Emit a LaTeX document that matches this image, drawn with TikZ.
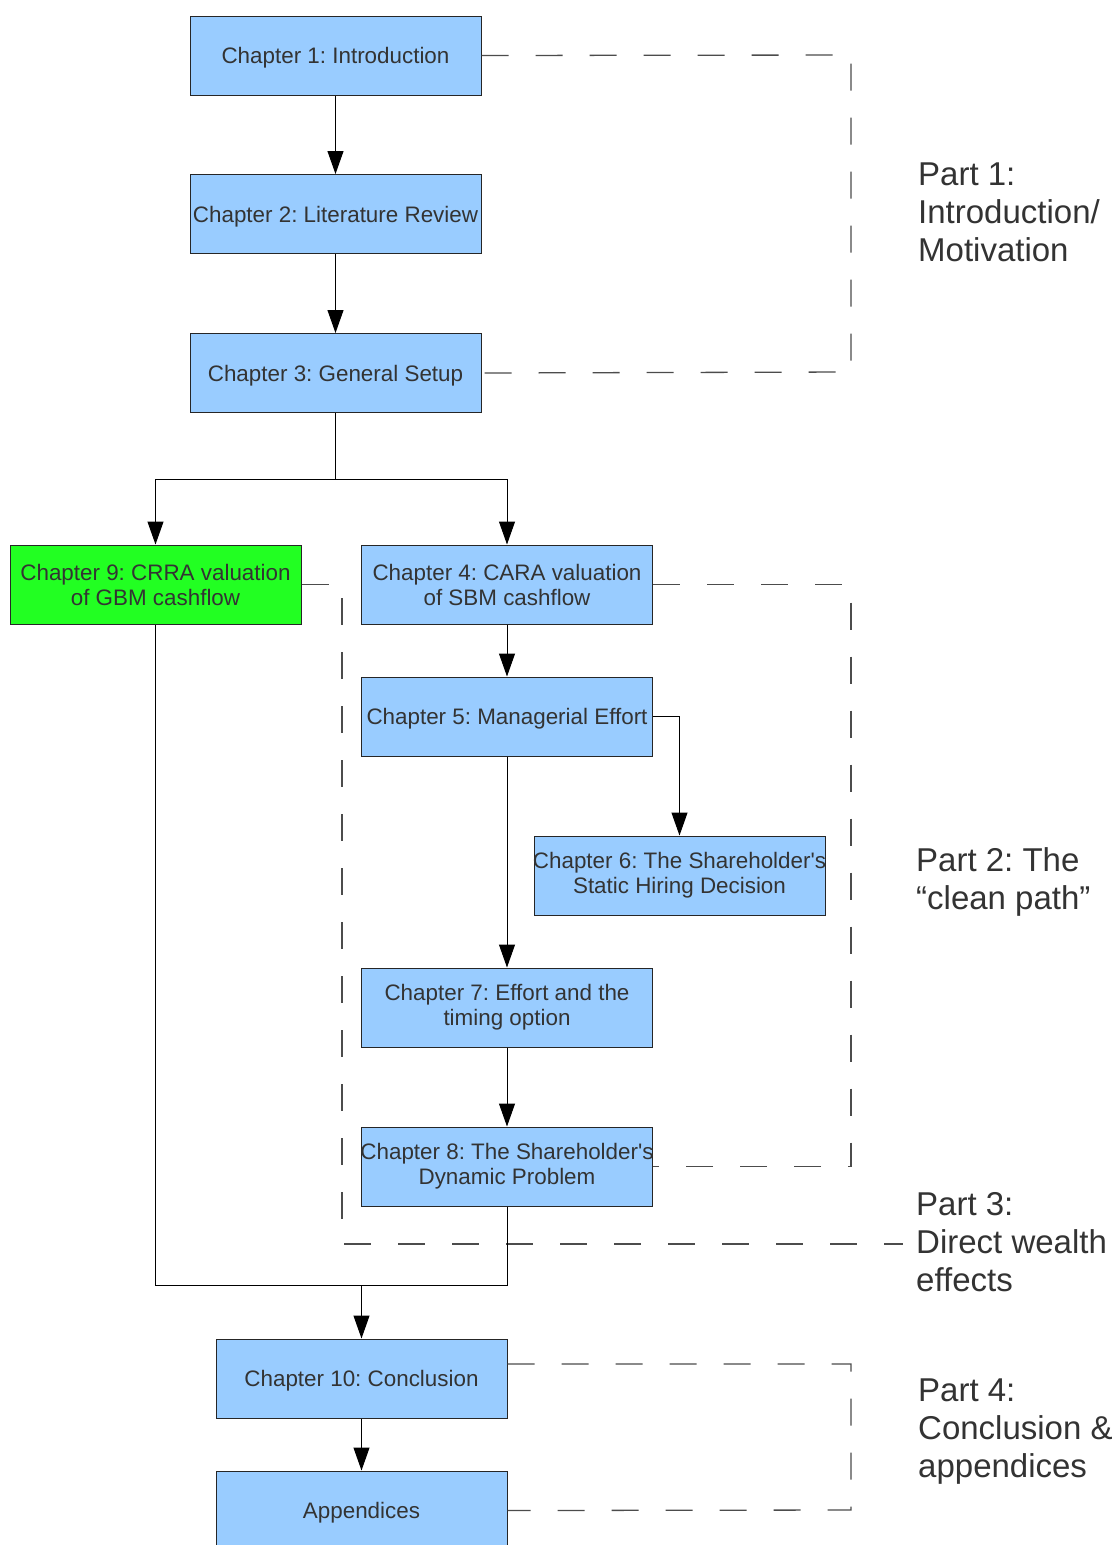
\documentclass[tikz,border=0pt]{standalone}
\usepackage{fontspec}
\setmainfont[Ligatures=TeXOff]{Liberation Sans}
\usetikzlibrary{arrows.meta}
\definecolor{boxblue}{HTML}{99CCFF}
\definecolor{boxgreen}{HTML}{22FF22}
\definecolor{txtgray}{HTML}{333333}
\newcommand{\zl}[1]{\makebox[0pt][c]{#1}}
\newcommand{\zs}[1]{\makebox[0pt][c]{\raisebox{0pt}[16pt][0pt]{#1}}}
\begin{document}
\frenchspacing
\begin{tikzpicture}[x=1pt,y=-1pt,
  chbox/.style={rectangle, draw=black!85, line width=1pt, fill=boxblue, minimum width=291pt, minimum height=79pt, inner sep=0pt, align=center, text=txtgray, font=\fontsize{22.4}{25}\selectfont\frenchspacing},
  conn/.style={draw=black, line width=1pt},
  arr/.style={conn, -{Triangle[length=23pt,width=16pt]}},
  partdash/.style={draw=black!70, line width=1.3pt, dash pattern=on 27pt off 27pt},
  partlbl/.style={anchor=west, align=left, inner sep=0pt, text=txtgray, font=\fontsize{33}{38}\selectfont\frenchspacing}]
\useasboundingbox (0,0) rectangle (1118,1545);
\fill[white] (0,0) rectangle (1118,1545);

\coordinate (p1a) at (851,55);
\coordinate (p1b) at (851,372);
\coordinate (p2a) at (851,584.5);
\coordinate (p2b) at (851,1166.5);
\coordinate (p3a) at (342,584.5);
\coordinate (p3b) at (342,1244);
\coordinate (p3c) at (903,1244);
\coordinate (p4a) at (851,1364);
\coordinate (p4b) at (851,1510);

% boxes
\node[chbox] (ch1) at (335.5,55.5) {\zs{Chapter 1: Introduction}};
\node[chbox] (ch2) at (335.5,214) {\zs{Chapter 2: Literature Review}};
\node[chbox] (ch3) at (335.5,373) {\zs{Chapter 3: General Setup}};
\node[chbox, fill=boxgreen] (ch9) at (155.5,584.5) {\zl{Chapter 9: CRRA valuation}\\\zl{of GBM cashflow}};
\node[chbox] (ch4) at (507,584.5) {\zl{Chapter 4: CARA valuation}\\\zl{of SBM cashflow}};
\node[chbox] (ch5) at (507,716.5) {\zs{Chapter 5: Managerial Effort}};
\node[chbox] (ch6) at (679.5,875.5) {\zl{Chapter 6: The Shareholder's}\\\zl{Static Hiring Decision}};
\node[chbox] (ch7) at (507,1007.5) {\zl{Chapter 7: Effort and the}\\\zl{timing option}};
\node[chbox] (ch8) at (507,1166.5) {\zl{Chapter 8: The Shareholder's}\\\zl{Dynamic Problem}};
\node[chbox] (ch10) at (361.5,1378.5) {\zs{Chapter 10: Conclusion}};
\node[chbox] (app) at (361.5,1510.5) {\zs{Appendices}};

\draw[partdash] (ch1.east) -- (p1a) -- (p1b) -- (ch3.east);
\draw[partdash] (ch4.east) -- (p2a) -- (p2b) -- (ch8.east);
\draw[partdash] (ch9.east) -- (p3a) -- (p3b) -- (p3c);
\draw[partdash] (ch10.east |- p4a) -- (p4a) -- (p4b) -- (app.east);

% connectors
\coordinate (split) at (335.5,479);
\coordinate (mr) at (507,1285);
\coordinate (ml) at (155.5,1285);
\coordinate (mc) at (361.5,1285);
\draw[arr] (ch1) -- (ch2);
\draw[arr] (ch2) -- (ch3);
\draw[conn] (ch3.south) -- (split);
\draw[arr] (split) -| (ch9.north);
\draw[arr] (split) -| (ch4.north);
\draw[arr] (ch4) -- (ch5);
\draw[arr] (ch5.east) -| (ch6.north);
\draw[arr] (ch5) -- (ch7);
\draw[arr] (ch7) -- (ch8);
\draw[conn] (ch8.south) -- (mr) -- (ml) -- (ch9.south);
\draw[arr] (mc) -- (ch10.north);
\draw[arr] (ch10) -- (app);

% part labels
\node[partlbl] (l1) at (918,212) {Part 1:\\Introduction/\\Motivation};
\node[partlbl] (l2) at (916,882) {Part 2: The\\“clean path”};
\node[partlbl] (l3) at (916,1242) {Part 3:\\Direct wealth\\effects};
\node[partlbl] (l4) at (918,1432) {Part 4:\\Conclusion \&\\appendices};
\end{tikzpicture}
\end{document}
